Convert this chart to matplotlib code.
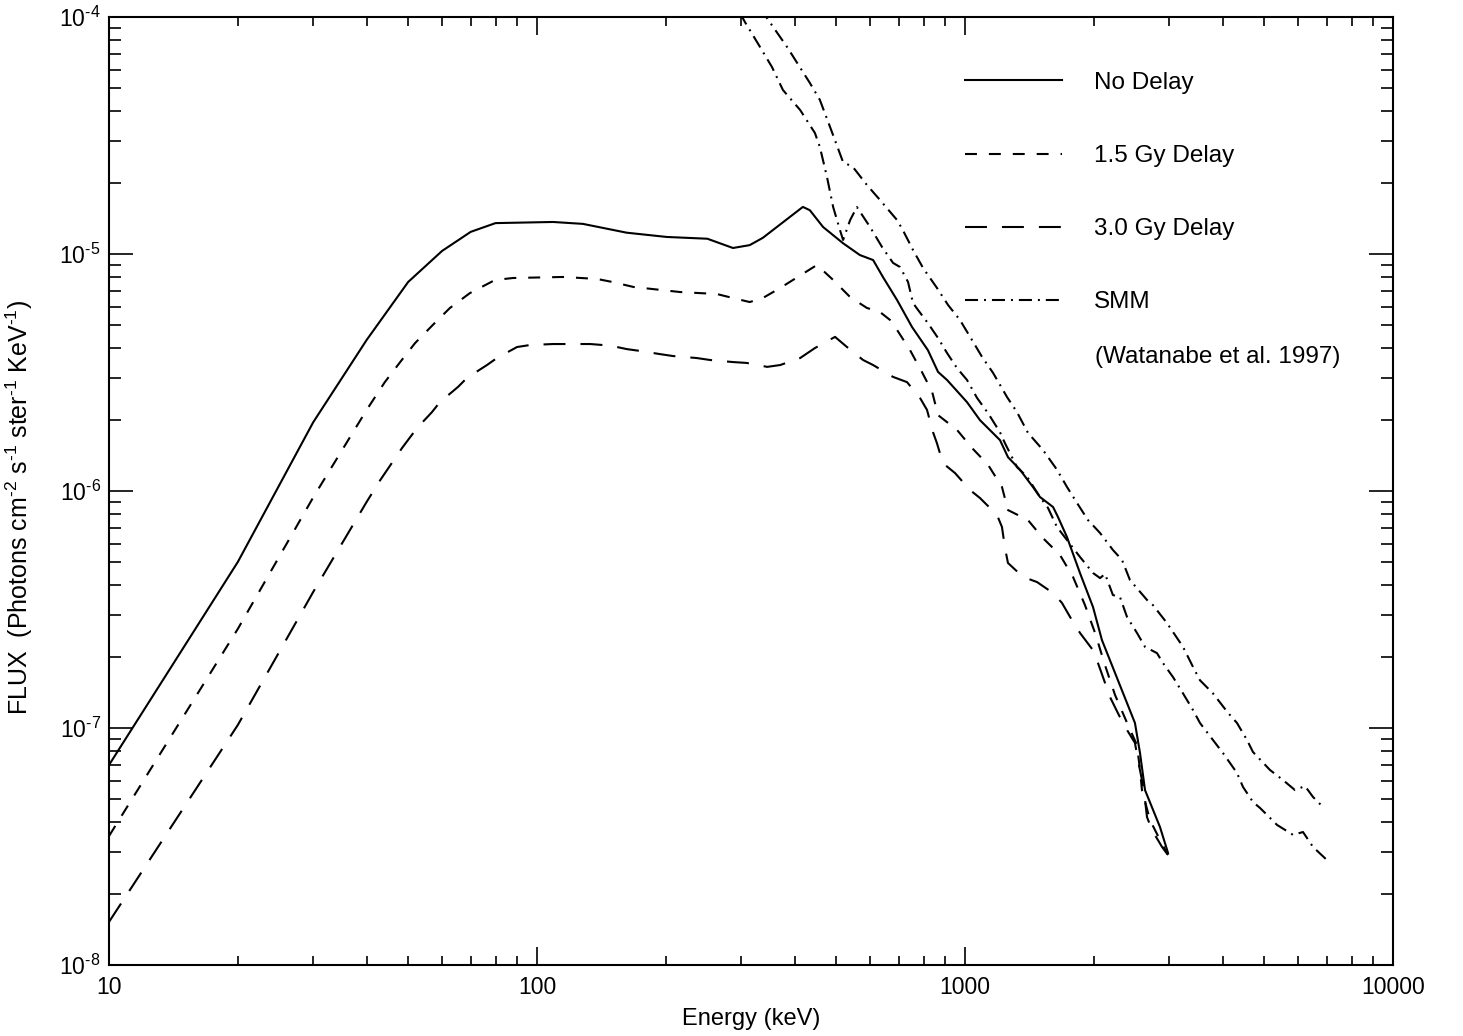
#!/usr/bin/env python3
import numpy as np
import matplotlib
matplotlib.use('Agg')
import matplotlib.pyplot as plt
from matplotlib.lines import Line2D
from matplotlib.ticker import FixedLocator, LogLocator, NullFormatter, FuncFormatter

plt.rcParams['font.family'] = ['Liberation Sans', 'DejaVu Sans']
plt.rcParams['mathtext.fontset'] = 'custom'
plt.rcParams['mathtext.rm'] = 'Liberation Sans'
plt.rcParams['mathtext.it'] = 'Liberation Sans:italic'
plt.rcParams['axes.unicode_minus'] = False
plt.rcParams['lines.scale_dashes'] = False

# Energy (keV) and flux (photons cm^-2 s^-1 ster^-1 keV^-1)
e_nodelay = [10, 20, 30, 40, 50, 60, 70, 80, 109, 128, 162, 201, 250, 287, 314, 337,
             418, 434, 466, 519, 568, 610, 643, 694, 752, 819, 865, 908, 1011, 1084,
             1207, 1260, 1344, 1441, 1497, 1606, 1649, 1731, 1856, 1991, 2089, 2495,
             2564, 2634, 2855, 2981]
f_nodelay = [6.98e-8, 5.02e-7, 1.95e-6, 4.34e-6, 7.62e-6, 1.03e-5, 1.24e-5, 1.35e-5,
             1.365e-5, 1.34e-5, 1.23e-5, 1.18e-5, 1.16e-5, 1.06e-5, 1.09e-5, 1.17e-5,
             1.58e-5, 1.53e-5, 1.30e-5, 1.11e-5, 9.90e-6, 9.43e-6, 8.0e-6, 6.39e-6,
             4.92e-6, 3.93e-6, 3.18e-6, 2.94e-6, 2.37e-6, 1.99e-6, 1.64e-6, 1.39e-6,
             1.23e-6, 1.04e-6, 9.43e-7, 8.56e-7, 7.77e-7, 6.39e-7, 4.51e-7, 3.24e-7,
             2.35e-7, 1.05e-7, 7.84e-8, 5.47e-8, 3.82e-8, 2.97e-8]

e_15gy = [10, 20, 30, 40, 44.1, 47.9, 51.9, 57.1, 62.6, 69.7, 79.8, 87.9, 115, 138, 150,
          168, 216, 263, 287, 314, 337, 370, 451, 492, 539, 590, 633, 668, 694, 744, 793,
          838, 865, 958, 1038, 1132, 1220, 1260, 1403, 1521, 1667, 1788, 1907, 2013,
          2124, 2241, 2403, 2522, 2564, 2591, 2705, 2855, 2981]
f_15gy = [3.50e-8, 2.62e-7, 9.4e-7, 2.2e-6, 2.88e-6, 3.50e-6, 4.21e-6, 5.02e-6, 5.92e-6,
          6.84e-6, 7.77e-6, 7.92e-6, 8.00e-6, 7.85e-6, 7.62e-6, 7.26e-6, 6.91e-6, 6.78e-6,
          6.52e-6, 6.27e-6, 6.52e-6, 7.19e-6, 8.99e-6, 7.77e-6, 6.58e-6, 5.92e-6, 5.69e-6,
          5.27e-6, 4.78e-6, 3.93e-6, 3.18e-6, 2.62e-6, 2.09e-6, 1.81e-6, 1.52e-6, 1.29e-6,
          1.04e-6, 8.31e-7, 7.54e-7, 6.33e-7, 5.37e-7, 4.34e-7, 3.30e-7, 2.52e-7, 1.84e-7,
          1.38e-7, 1.03e-7, 8.48e-8, 6.65e-8, 5.47e-8, 4.09e-8, 3.37e-8, 2.91e-8]

e_30gy = [10, 20, 30, 40, 43.0, 48.4, 52.4, 56.8, 59.3, 65.4, 68.6, 76.4, 80.6, 89.8, 96.3,
          109, 117.5, 133, 142.6, 150, 162, 174, 194, 208, 236, 254, 287, 309, 345, 370,
          412, 446, 497, 530, 578, 610, 679, 732, 785, 815, 842, 860, 888, 948, 1027,
          1084, 1188, 1220, 1240, 1260, 1366, 1473, 1606, 1685, 1788, 1856, 1991, 2045,
          2124, 2182, 2302, 2391, 2495, 2536, 2591, 2634, 2662, 2735, 2886, 2981]
f_30gy = [1.52e-8, 1.03e-7, 3.75e-7, 9.0e-7, 1.11e-6, 1.52e-6, 1.84e-6, 2.15e-6, 2.37e-6,
          2.75e-6, 3.0e-6, 3.40e-6, 3.64e-6, 4.05e-6, 4.13e-6, 4.17e-6, 4.17e-6, 4.17e-6,
          4.13e-6, 4.09e-6, 3.97e-6, 3.90e-6, 3.78e-6, 3.71e-6, 3.64e-6, 3.57e-6, 3.50e-6,
          3.47e-6, 3.34e-6, 3.40e-6, 3.64e-6, 4.01e-6, 4.47e-6, 4.05e-6, 3.57e-6, 3.40e-6,
          3.03e-6, 2.88e-6, 2.47e-6, 2.20e-6, 1.77e-6, 1.59e-6, 1.31e-6, 1.19e-6, 1.01e-6,
          9.34e-7, 7.92e-7, 7.05e-7, 5.75e-7, 4.97e-7, 4.34e-7, 4.13e-7, 3.71e-7, 3.37e-7,
          2.80e-7, 2.52e-7, 2.13e-7, 1.88e-7, 1.55e-7, 1.35e-7, 1.11e-7, 9.81e-8, 8.65e-8,
          7.33e-8, 6.03e-8, 4.97e-8, 4.21e-8, 3.71e-8, 3.15e-8, 2.91e-8]

# SMM measurements (Watanabe et al. 1997), upper and lower bounds
e_smm_hi = [332, 344.5, 384, 434, 458, 484, 519, 547, 590, 633, 694, 716, 756, 798, 860,
            913, 973, 1038, 1096, 1163, 1254, 1323, 1403, 1521, 1640, 1731, 1827, 1938,
            2068, 2216, 2327, 2429, 2662, 2749, 2965, 3231, 3410, 3540, 3796, 4115, 4320,
            4559, 4708, 5159, 5534, 5902, 6229, 6501, 6861]
f_smm_hi = [1.09e-4, 9.9e-5, 7.47e-5, 5.27e-5, 4.47e-5, 3.43e-5, 2.44e-5, 2.33e-5,
            1.955e-5, 1.69e-5, 1.39e-5, 1.26e-5, 1.04e-5, 8.73e-6, 7.19e-6, 6.09e-6,
            5.27e-6, 4.34e-6, 3.68e-6, 3.15e-6, 2.49e-6, 2.15e-6, 1.76e-6, 1.49e-6,
            1.23e-6, 1.04e-6, 8.90e-7, 7.54e-7, 6.65e-7, 5.64e-7, 5.12e-7, 4.21e-7,
            3.47e-7, 3.30e-7, 2.77e-7, 2.20e-7, 1.81e-7, 1.59e-7, 1.40e-7, 1.16e-7,
            1.05e-7, 8.90e-8, 7.92e-8, 6.65e-8, 6.03e-8, 5.47e-8, 5.69e-8, 5.12e-8, 4.64e-8]

e_smm_lo = [298, 306, 332, 354, 375.5, 412, 446, 458, 476, 492, 510.5, 519, 539, 559, 600,
            640, 679, 705, 736, 756, 777, 819, 865, 908, 958, 1011, 1067, 1132, 1207, 1240,
            1323, 1396, 1497, 1563, 1640, 1731, 1856, 1991, 2068, 2124, 2216, 2302, 2391,
            2522, 2634, 2809, 2901, 3062, 3231, 3410, 3540, 3796, 4006, 4160, 4320, 4462,
            4708, 4889, 5077, 5358, 5841, 6162, 6501, 7013]
f_smm_lo = [1.04e-4, 9.53e-5, 7.47e-5, 6.15e-5, 4.92e-5, 4.05e-5, 3.24e-5, 2.83e-5,
            2.11e-5, 1.578e-5, 1.26e-5, 1.146e-5, 1.39e-5, 1.578e-5, 1.30e-5, 1.07e-5,
            9.17e-6, 8.81e-6, 7.62e-6, 6.21e-6, 5.80e-6, 5.11e-6, 4.42e-6, 3.82e-6,
            3.30e-6, 2.94e-6, 2.47e-6, 2.13e-6, 1.77e-6, 1.59e-6, 1.26e-6, 1.15e-6,
            9.43e-7, 8.48e-7, 7.05e-7, 6.21e-7, 5.27e-7, 4.51e-7, 4.29e-7, 4.47e-7,
            3.64e-7, 3.57e-7, 2.94e-7, 2.52e-7, 2.20e-7, 2.07e-7, 1.88e-7, 1.64e-7,
            1.40e-7, 1.19e-7, 1.05e-7, 8.90e-8, 7.84e-8, 7.12e-8, 6.46e-8, 5.64e-8,
            4.87e-8, 4.60e-8, 4.30e-8, 3.90e-8, 3.54e-8, 3.64e-8, 3.15e-8, 2.77e-8]

x_ticks = [10, 100, 1000, 10000]
y_ticks = [1e-8, 1e-7, 1e-6, 1e-5, 1e-4]
labels = ['No Delay', '1.5 Gy Delay', '3.0 Gy Delay', 'SMM']
ref_note = '(Watanabe et al. 1997)'

# line styles (dash patterns in points)
solid = dict(color='black', lw=1.5, linestyle='-')
short_dash = dict(color='black', lw=1.5, dashes=(8.6, 8.6))
long_dash = dict(color='black', lw=1.5, dashes=(15.8, 10.8))
dot_dash = dict(color='black', lw=1.5, dashes=(9.4, 4.3, 1.4, 4.3))

fig = plt.figure(figsize=(14.63, 10.36), dpi=100)
ax = fig.add_axes([109 / 1463, 71 / 1036, 1284 / 1463, 948 / 1036])

ax.plot(e_nodelay, f_nodelay, **solid)
ax.plot(e_15gy, f_15gy, **short_dash)
ax.plot(e_30gy, f_30gy, **long_dash)
ax.plot(e_smm_hi, f_smm_hi, **dot_dash)
ax.plot(e_smm_lo, f_smm_lo, **dot_dash)

ax.set_xscale('log')
ax.set_yscale('log')
ax.set_xlim(x_ticks[0], x_ticks[-1])
ax.set_ylim(y_ticks[0], y_ticks[-1])

ax.xaxis.set_major_locator(FixedLocator(x_ticks))
ax.xaxis.set_minor_locator(LogLocator(base=10, subs=range(2, 10)))
ax.xaxis.set_major_formatter(FuncFormatter(lambda v, p: '%d' % v))
ax.xaxis.set_minor_formatter(NullFormatter())
ax.yaxis.set_major_locator(FixedLocator(y_ticks))
ax.yaxis.set_minor_locator(LogLocator(base=10, subs=range(2, 10)))
# \text keeps a plain hyphen in the exponent, as in the original figure
ax.yaxis.set_major_formatter(FuncFormatter(
    lambda v, p: r'$\mathregular{10^{\text{%d}}}$' % round(np.log10(v))))
ax.yaxis.set_minor_formatter(NullFormatter())

ax.tick_params(which='both', direction='in', top=True, right=True, width=1.2,
               labelsize=16.5)
ax.tick_params(axis='y', which='major', length=17, pad=6)
ax.tick_params(axis='y', which='minor', length=8.6)
ax.tick_params(axis='x', which='major', length=13, pad=8)
ax.tick_params(axis='x', which='minor', length=6.5)
for sp in ax.spines.values():
    sp.set_linewidth(1.5)

ax.set_xlabel('Energy (keV)', fontsize=17)
ax.set_ylabel(r'FLUX  (Photons cm$^{\text{-2}}$ s$^{\text{-1}}$ ster$^{\text{-1}}$ '
              r'KeV$^{\text{-1}}$)', fontsize=18)
ax.xaxis.set_label_coords(0.5, -0.045)
ax.yaxis.set_label_coords(-0.058, 0.483)

# legend: four line samples, then the reference note underneath
handles = [Line2D([], [], **solid), Line2D([], [], **short_dash),
           Line2D([], [], **long_dash), Line2D([], [], **dot_dash)]
ax.legend(handles, labels, loc='upper left', bbox_to_anchor=(0.6667, 0.942),
          frameon=False, fontsize=17.5, handlelength=4.0, handletextpad=1.3,
          labelspacing=2.1, borderpad=0, borderaxespad=0)
ax.text(0.768, 0.6414, ref_note, transform=ax.transAxes, fontsize=17.5,
        ha='left', va='center')

plt.savefig('out.png', dpi=100)
plt.close()
